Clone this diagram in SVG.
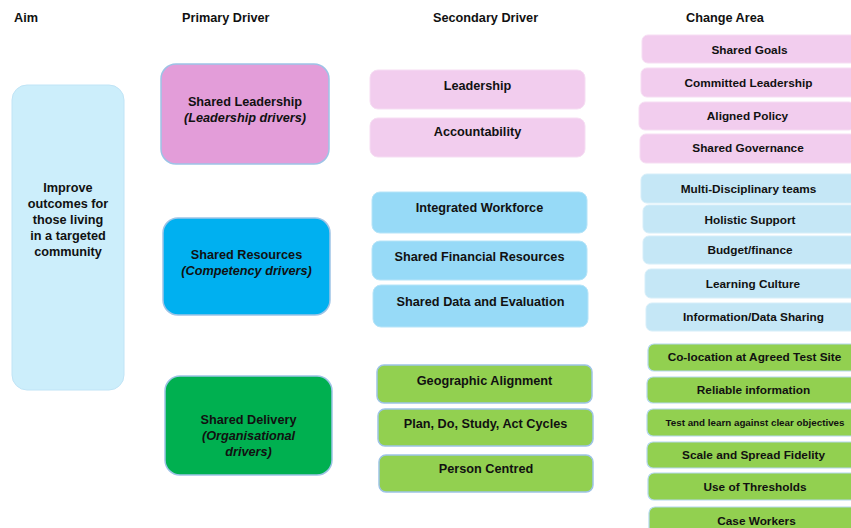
<svg xmlns="http://www.w3.org/2000/svg" width="851" height="528" viewBox="0 0 851 528">
<style>
text{font-family:"Liberation Sans",Arial,sans-serif;font-weight:bold;fill:#111;font-size:12.7px}
.c{text-anchor:middle}
.i{font-style:italic}
.ca{font-size:11.8px;text-anchor:middle}
.aim{fill:#CCEEFB;stroke:#C0E4F6;stroke-width:1}
.p1{fill:#E39DD9;stroke:#9DC3E6;stroke-width:1.5}
.p2{fill:#00B0F0;stroke:#9DC3E6;stroke-width:1.5}
.p3{fill:#00B050;stroke:#9DC3E6;stroke-width:1.5}
.s1{fill:#F2CDEE;stroke:#F6DDF3;stroke-width:1}
.s2{fill:#97DAF7;stroke:#B6E4F8;stroke-width:1}
.s3{fill:#92D050;stroke:#9DC3E6;stroke-width:1.5}
.c1{fill:#F2CDEE;stroke:#F6DDF3;stroke-width:1}
.c2{fill:#C5E7F6;stroke:#D6EEF9;stroke-width:1}
.c3{fill:#92D050;stroke:#B4D8EE;stroke-width:1.2}
</style>
<rect width="851" height="528" fill="#fff"/>
<g id="headers">
<text x="14" y="21.5">Aim</text>
<text x="182" y="21.5">Primary Driver</text>
<text x="433" y="21.5">Secondary Driver</text>
<text x="686" y="21.5">Change Area</text>
</g>
<g id="aim">
<rect class="aim" x="12" y="85" width="112" height="305" rx="15"/>
<text class="c" x="68" y="191.5">Improve</text>
<text class="c" x="68" y="207.5">outcomes for</text>
<text class="c" x="68" y="223.5">those living</text>
<text class="c" x="68" y="239.5">in a targeted</text>
<text class="c" x="68" y="255.5">community</text>
</g>
<g id="primary-leadership">
<rect class="p1" x="161" y="64" width="168" height="100" rx="15"/>
<text class="c" x="245" y="105.5">Shared Leadership</text>
<text class="c i" x="245" y="122">(Leadership drivers)</text>
</g>
<g id="primary-resources">
<rect class="p2" x="163" y="218" width="167" height="97" rx="15"/>
<text class="c" x="246.5" y="258.5">Shared Resources</text>
<text class="c i" x="246.5" y="275">(Competency drivers)</text>
</g>
<g id="primary-delivery">
<rect class="p3" x="165" y="376" width="167" height="99" rx="15"/>
<text class="c" x="248.5" y="423.5">Shared Delivery</text>
<text class="c i" x="248.5" y="440">(Organisational</text>
<text class="c i" x="248.5" y="455.5">drivers)</text>
</g>
<g id="sec-leadership">
<rect class="s1" x="370" y="70" width="215" height="39" rx="8"/>
<text class="c" x="477.5" y="89.5">Leadership</text>
</g>
<g id="sec-accountability">
<rect class="s1" x="370" y="118" width="215" height="39" rx="8"/>
<text class="c" x="477.5" y="135.5">Accountability</text>
</g>
<g id="sec-workforce">
<rect class="s2" x="372" y="192" width="215" height="41" rx="8"/>
<text class="c" x="479.5" y="211.5">Integrated Workforce</text>
</g>
<g id="sec-financial">
<rect class="s2" x="372" y="241" width="215" height="39" rx="8"/>
<text class="c" x="479.5" y="260.5">Shared Financial Resources</text>
</g>
<g id="sec-data">
<rect class="s2" x="373" y="285" width="215" height="42" rx="8"/>
<text class="c" x="480.5" y="305.5">Shared Data and Evaluation</text>
</g>
<g id="sec-geographic">
<rect class="s3" x="377" y="365" width="215" height="38" rx="7"/>
<text class="c" x="484.5" y="384.5">Geographic Alignment</text>
</g>
<g id="sec-pdsa">
<rect class="s3" x="378" y="409" width="215" height="37" rx="7"/>
<text class="c" x="485.5" y="427.5">Plan, Do, Study, Act Cycles</text>
</g>
<g id="sec-person">
<rect class="s3" x="379" y="455" width="214" height="37" rx="7"/>
<text class="c" x="486" y="472.5">Person Centred</text>
</g>
<g id="ca-goals"><rect class="c1" x="642" y="35" width="216" height="28" rx="6"/><text class="ca" x="749.5" y="54.2">Shared Goals</text></g>
<g id="ca-committed"><rect class="c1" x="641" y="68" width="216" height="29" rx="6"/><text class="ca" x="748.5" y="87.2">Committed Leadership</text></g>
<g id="ca-policy"><rect class="c1" x="639" y="102" width="216" height="28" rx="6"/><text class="ca" x="747.5" y="120.2">Aligned Policy</text></g>
<g id="ca-governance"><rect class="c1" x="640" y="134" width="216" height="29" rx="6"/><text class="ca" x="748" y="152.2">Shared Governance</text></g>
<g id="ca-mdt"><rect class="c2" x="641" y="174" width="216" height="29" rx="6"/><text class="ca" x="748.5" y="193.2">Multi-Disciplinary teams</text></g>
<g id="ca-holistic"><rect class="c2" x="643" y="205" width="216" height="28" rx="6"/><text class="ca" x="750" y="224.2">Holistic Support</text></g>
<g id="ca-budget"><rect class="c2" x="643" y="236" width="216" height="28" rx="6"/><text class="ca" x="750" y="254.2">Budget/finance</text></g>
<g id="ca-learning"><rect class="c2" x="645" y="269" width="216" height="29" rx="6"/><text class="ca" x="753" y="288.2">Learning Culture</text></g>
<g id="ca-info"><rect class="c2" x="646" y="303" width="216" height="28" rx="6"/><text class="ca" x="753.5" y="321.2">Information/Data Sharing</text></g>
<g id="ca-colocation"><rect class="c3" x="648" y="344" width="216" height="27" rx="6"/><text class="ca" x="754.5" y="361.2">Co-location at Agreed Test Site</text></g>
<g id="ca-reliable"><rect class="c3" x="647" y="377" width="216" height="26" rx="6"/><text class="ca" x="753.5" y="394.2">Reliable information</text></g>
<g id="ca-test"><rect class="c3" x="647" y="409" width="216" height="27" rx="6"/><text class="ca" x="755" y="425.5" style="font-size:9.8px">Test and learn against clear objectives</text></g>
<g id="ca-scale"><rect class="c3" x="647" y="442" width="216" height="26" rx="6"/><text class="ca" x="753.5" y="459.2">Scale and Spread Fidelity</text></g>
<g id="ca-thresholds"><rect class="c3" x="648" y="473" width="216" height="27" rx="6"/><text class="ca" x="755" y="491.2">Use of Thresholds</text></g>
<g id="ca-caseworkers"><rect class="c3" x="649" y="507" width="216" height="30" rx="6"/><text class="ca" x="756.5" y="525.2">Case Workers</text></g>
<g id="connectors"/>
</svg>
